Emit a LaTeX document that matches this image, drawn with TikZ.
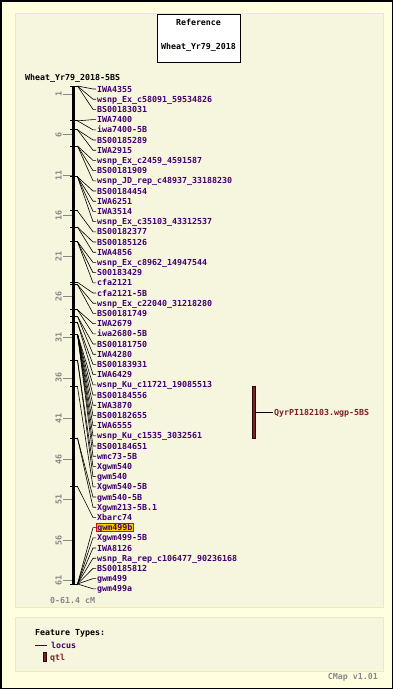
\documentclass[tikz,border=0pt]{standalone}
\usepackage{fontspec}
\newfontfamily\mapfont{DejaVu Sans Mono}
\definecolor{pagebg}{RGB}{255,255,224}
\definecolor{panelbg}{RGB}{246,245,222}
\definecolor{panelline}{RGB}{242,234,170}
\definecolor{locuscol}{RGB}{64,0,112}
\definecolor{qtlcol}{RGB}{128,30,36}
\definecolor{scalecol}{RGB}{136,136,136}
\definecolor{hilite}{RGB}{255,204,0}
\definecolor{hiliteline}{RGB}{220,0,0}
\tikzset{
  maptext/.style = {font=\mapfont\bfseries\fontsize{8.3}{9}\selectfont, inner sep=1pt,
    text height=6pt, text depth=0pt},
  locuslabel/.style = {maptext, text=locuscol, anchor=west},
  hilited/.style = {fill=hilite, draw=hiliteline, line width=0.8pt},
  connector/.style = {black, line width=0.6pt},
  markertick/.style = {black, line width=0.8pt},
  scaletick/.style = {scalecol, line width=0.8pt},
  scalenum/.style = {maptext, text=scalecol, rotate=90},
  chrombar/.style = {black, line width=2.4pt},
  panel/.style = {draw=panelline, fill=panelbg, line width=1pt}
}

\begin{document}
\begin{tikzpicture}[x=1pt,y=-1pt]
  \useasboundingbox (0,0) rectangle (393,689);
  \draw[black, line width=1.5pt, fill=pagebg] (0.75,0.75) rectangle (392.25,688.25);
  \draw[panel] (15,13) rectangle (383,607);
  \draw[panel] (15,617) rectangle (383,671);

  \draw[black, line width=0.8pt, fill=white] (157,14) rectangle (240,62);
  \node[maptext] (reftitle) at (198.5,22) {Reference};
  \node[maptext] (refname) at (198.5,46) {Wheat\_Yr79\_2018};

  \node[maptext, anchor=west] (chrname) at (24,77) {Wheat\_Yr79\_2018-5BS};

  \pgfmathsetmacro{\ytop}{86}
  \pgfmathsetmacro{\pxcm}{8.11}
  \coordinate (bartop) at (73.5,\ytop);
  \coordinate (barbottom) at (73.5,{\ytop+\pxcm*61.4});
  \draw[chrombar] (bartop) -- (barbottom);

  \foreach \c in {1,6,...,61} {%
    \pgfmathsetmacro{\ys}{\ytop+\pxcm*\c}
    \draw[scaletick] (63,\ys) -- (72,\ys);
    \node[scalenum] (scale\c) at (58.5,\ys) {\c};
  }
  \node[maptext, text=scalecol, anchor=west] (range) at (49,600) {0-61.4 cM};

  \foreach \name/\pos [count=\i] in {
    IWA4355/0, wsnp\_Ex\_c58091\_59534826/0, BS00183031/0,
    IWA7400/4.3, iwa7400-5B/4.3, BS00185289/5.4, IWA2915/5.4,
    wsnp\_Ex\_c2459\_4591587/7.4, BS00181909/7.4, wsnp\_JD\_rep\_c48937\_33188230/7.4,
    BS00184454/11.2, IWA6251/11.2, IWA3514/11.2, wsnp\_Ex\_c35103\_43312537/11.2,
    BS00182377/15.4, BS00185126/17.4, IWA4856/17.4,
    wsnp\_Ex\_c8962\_14947544/19.2, S00183429/19.2, cfa2121/19.2,
    cfa2121-5B/24.2, wsnp\_Ex\_c22040\_31218280/24.5, BS00181749/24.5,
    IWA2679/27.6, iwa2680-5B/27.6, BS00181750/28.4, IWA4280/28.4,
    BS00183931/29.2, IWA6429/29.2,
    wsnp\_Ku\_c11721\_19085513/30.6, BS00184556/30.6, IWA3870/30.6,
    BS00182655/30.6, IWA6555/30.6, wsnp\_Ku\_c1535\_3032561/30.6,
    BS00184651/30.6, wmc73-5B/30.6,
    Xgwm540/33.8, gwm540/33.8, Xgwm540-5B/37.1, gwm540-5B/43.4,
    Xgwm213-5B.1/43.4, Xbarc74/49.4,
    gwm499b/61.4, Xgwm499-5B/61.4, IWA8126/61.4,
    wsnp\_Ra\_rep\_c106477\_90236168/61.4, BS00185812/61.4, gwm499/61.4, gwm499a/61.4} {%
    \pgfmathsetmacro{\ym}{\ytop+\pxcm*\pos}
    \pgfmathsetmacro{\yl}{89+10.2*(\i-1)}
    \coordinate (m\i) at (77.5,\ym);
    \ifnum\i=44
      \node[locuslabel, hilited] (l\i) at (96,\yl) {\name};
    \else
      \node[locuslabel] (l\i) at (96,\yl) {\name};
    \fi
    \draw[markertick] (m\i) -- ++(-8,0);
    \draw[connector] (m\i) -- ([xshift=-3pt]l\i.west) -- (l\i.west);
  }

  \node[draw=black!70!qtlcol, fill=qtlcol, line width=0.5pt, minimum width=3pt,
    minimum height=52pt, inner sep=0pt] (qtl) at (253.5,412) {};
  \node[maptext, text=qtlcol, anchor=west] (qtlname) at (273,412) {QyrPI182103.wgp-5BS};
  \draw[connector] (qtl.east) -- (qtlname.west);

  \node[maptext, anchor=west] (legtitle) at (34,632) {Feature Types:};
  \node[locuslabel] (leglocus) at (50,645) {locus};
  \draw[locuscol, line width=0.8pt] ([xshift=-15pt]leglocus.west) -- ([xshift=-3pt]leglocus.west);
  \node[draw=black!70!qtlcol, fill=qtlcol, line width=0.5pt, minimum width=3pt,
    minimum height=9pt, inner sep=0pt] (legqtlbar) at (44.5,657) {};
  \node[maptext, text=qtlcol, anchor=west] (legqtl) at (49,657) {qtl};

  \node[maptext, text=scalecol, anchor=east] (version) at (379,676) {CMap v1.01};
\end{tikzpicture}
\end{document}
